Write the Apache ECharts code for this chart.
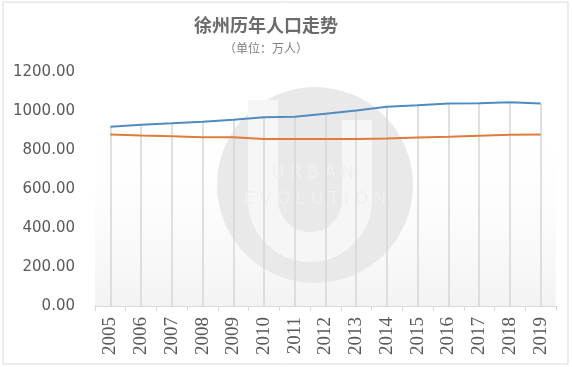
<!DOCTYPE html>
<html><head><meta charset="utf-8">
<script src="https://cdn.jsdelivr.net/npm/echarts@6/dist/echarts.min.js"></script>
<style>html,body{margin:0;padding:0;background:#fff}#c{width:572px;height:367px}</style>
</head><body><div id="c"></div>
<script>
const years = ['2005','2006','2007','2008','2009','2010','2011','2012','2013','2014','2015','2016','2017','2018','2019'];
const seriesA = [919, 930, 937, 945, 955, 968, 970, 986, 1002, 1022, 1029, 1039, 1040, 1045, 1038];
const seriesB = [880, 874, 870, 866, 866, 857, 856, 857, 857, 859, 864, 868, 873, 878, 879];
const yTicks = { min: 0, max: 1200, interval: 200 };
const titleText = '徐州历年人口走势';
const subText = '（单位：万人）';

const dropLines = years.map((y, i) => [
  { coord: [y, Math.max(seriesA[i], seriesB[i])] },
  { coord: [y, 0] }
]);

const chart = echarts.init(document.getElementById('c'), null, { renderer: 'canvas' });
chart.setOption({
  backgroundColor: '#fff',
  animation: false,
  title: {
    text: titleText, subtext: subText, left: 261, textAlign: 'center', top: 11, itemGap: 8,
    textStyle: { fontSize: 18, fontWeight: 'bold', color: '#6b6b6b', fontFamily: 'Noto Sans CJK SC' },
    subtextStyle: { fontSize: 12, color: '#7f7f7f', fontFamily: 'Noto Sans CJK SC' }
  },
  graphic: [
    { type: 'rect', z: -10, shape: { x: 3, y: 2, width: 565, height: 362 }, style: { fill: 'none', stroke: '#d9d9d9', lineWidth: 1 } },
    { type: 'rect', z: -9, shape: { x: 95, y: 115, width: 461, height: 191 },
      style: { fill: new echarts.graphic.LinearGradient(0, 0, 0, 1, [{ offset: 0, color: 'rgba(255,255,255,0)' }, { offset: 1, color: '#f3f3f3' }]) } },
    { type: 'circle', z: -8, shape: { cx: 315, cy: 185, r: 98 }, style: { fill: '#e9e9e9' } },
    { type: 'polyline', z: -7, shape: { points: [[263, 100], [263, 200]] }, style: { stroke: '#f6f6f6', lineWidth: 30, fill: 'none' } },
    { type: 'arc', z: -7, shape: { cx: 310, cy: 200, r: 47, startAngle: 0, endAngle: Math.PI, clockwise: true }, style: { stroke: '#f6f6f6', lineWidth: 30, fill: 'none' } },
    { type: 'polyline', z: -7, shape: { points: [[357, 200], [357, 120]] }, style: { stroke: '#f6f6f6', lineWidth: 30, fill: 'none' } },
    { type: 'text', z: -6, style: { text: 'U R B A N', x: 313, y: 174, textAlign: 'center', textVerticalAlign: 'middle', fill: '#f3eeee', font: '17px "DejaVu Sans"' } },
    { type: 'text', z: -6, style: { text: 'E V O L U T I O N', x: 315, y: 200, textAlign: 'center', textVerticalAlign: 'middle', fill: '#f3eeee', font: '17px "DejaVu Sans"' } }
  ],
  grid: { left: 95, right: 16, top: 72, bottom: 61 },
  xAxis: {
    type: 'category', data: years, boundaryGap: true,
    axisLine: { lineStyle: { color: '#d9d9d9', width: 1 } },
    axisTick: { show: true, length: 5, lineStyle: { color: '#d9d9d9' } },
    axisLabel: { rotate: 90, margin: 11, fontSize: 19, color: '#595959', fontFamily: '"Liberation Serif", serif' },
    splitLine: { show: false }
  },
  yAxis: {
    type: 'value', min: yTicks.min, max: yTicks.max, interval: yTicks.interval,
    axisLine: { show: false }, axisTick: { show: false }, splitLine: { show: false },
    axisLabel: { margin: 20, fontSize: 15, color: '#595959', fontFamily: 'DejaVu Sans', formatter: v => v.toFixed(2) }
  },
  series: [
    {
      type: 'line', data: seriesA, symbol: 'none', z: 3,
      lineStyle: { color: '#4f8cc0', width: 2 },
      markLine: { silent: true, symbol: 'none', label: { show: false }, lineStyle: { color: '#d6d6d6', width: 1.5, type: 'solid' }, data: dropLines, z: 1 }
    },
    { type: 'line', data: seriesB, symbol: 'none', z: 3, lineStyle: { color: '#e07b39', width: 2 } }
  ]
});
</script></body></html>
